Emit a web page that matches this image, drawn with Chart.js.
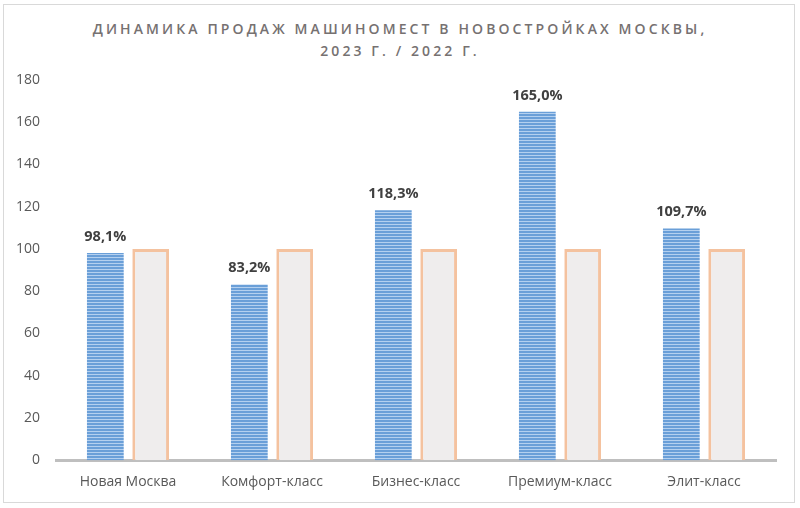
<!DOCTYPE html>
<html>
<head>
<meta charset="utf-8">
<script src="https://cdn.jsdelivr.net/npm/chart.js@4"></script>
<style>
    html, body { margin: 0; padding: 0; background: #fff; }
    #wrap { position: relative; width: 800px; height: 508px; }
    #frame { position: absolute; left: 3px; top: 4px; width: 790px; height: 497px; border: 1px solid #d9d9d9; }
    #title {
        position: absolute; left: 0; top: 18px; width: 800px; text-align: center;
        font-family: "Open Sans", sans-serif; font-weight: 600; font-size: 14px;
        letter-spacing: 3.1px; line-height: 22px; color: #767171;
    }
    canvas { position: absolute; left: 0; top: 0; }
</style>
</head>
<body>
<div id="wrap">
    <div id="frame"></div>
    <div id="title">ДИНАМИКА ПРОДАЖ МАШИНОМЕСТ В НОВОСТРОЙКАХ МОСКВЫ,<br>2023 Г. / 2022 Г.</div>
    <canvas id="chart" width="800" height="508"></canvas>
</div>
<script>
    // Data
    var categories = ['Новая Москва', 'Комфорт-класс', 'Бизнес-класс', 'Премиум-класс', 'Элит-класс'];
    var sales2023 = [98.1, 83.2, 118.3, 165.0, 109.7];
    var sales2022 = [100, 100, 100, 100, 100];
    var yTicks = [0, 20, 40, 60, 80, 100, 120, 140, 160, 180];

    // Horizontal striped fill for the 2023 bars
    function stripePattern() {
        var c = document.createElement('canvas');
        c.width = 4;
        c.height = 3;
        var g = c.getContext('2d');
        g.fillStyle = '#6a9fd8';
        g.fillRect(0, 0, 4, 3);
        g.fillStyle = '#b4d0ef';
        g.fillRect(0, 2, 4, 1);
        return g.createPattern(c, 'repeat');
    }

    // Percent labels above the blue bars
    var percentLabels = {
        id: 'percentLabels',
        afterDatasetsDraw: function(chart) {
            var ctx = chart.ctx;
            var meta = chart.getDatasetMeta(0);
            ctx.save();
            ctx.font = 'bold 14.5px "Open Sans", sans-serif';
            ctx.fillStyle = '#404040';
            ctx.textAlign = 'center';
            ctx.textBaseline = 'bottom';
            meta.data.forEach(function(bar, i) {
                var txt = sales2023[i].toFixed(1).replace('.', ',') + '%';
                ctx.fillText(txt, bar.x, bar.y - 9);
            });
            ctx.restore();
        }
    };

    var ctx = document.getElementById('chart').getContext('2d');

    new Chart(ctx, {
        type: 'bar',
        data: {
            labels: categories,
            datasets: [{
                label: '2023',
                data: sales2023,
                backgroundColor: stripePattern(),
                borderWidth: 0
            }, {
                label: '2022',
                data: sales2022,
                backgroundColor: '#efeded',
                borderColor: '#f4c29f',
                borderWidth: 3
            }]
        },
        options: {
            responsive: false,
            animation: false,
            events: [],
            layout: {
                padding: { top: 80, left: 0, right: 24, bottom: 5 }
            },
            datasets: {
                bar: {
                    categoryPercentage: 0.63,
                    barPercentage: 0.81
                }
            },
            plugins: {
                legend: { display: false },
                tooltip: { enabled: false }
            },
            scales: {
                x: {
                    grid: { display: false, drawTicks: false },
                    border: { display: true, color: '#bfbfbf', width: 3 },
                    ticks: {
                        color: '#595959',
                        padding: 13,
                        font: { family: '"Open Sans", sans-serif', size: 14 }
                    }
                },
                y: {
                    min: 0,
                    max: 180,
                    afterBuildTicks: function(axis) {
                        axis.ticks = yTicks.map(function(v) { return { value: v }; });
                    },
                    grid: { display: false, drawTicks: false },
                    border: { display: false },
                    ticks: {
                        color: '#595959',
                        padding: 16,
                        font: { family: '"Open Sans", sans-serif', size: 14 }
                    }
                }
            }
        },
        plugins: [percentLabels]
    });
</script>
</body>
</html>
